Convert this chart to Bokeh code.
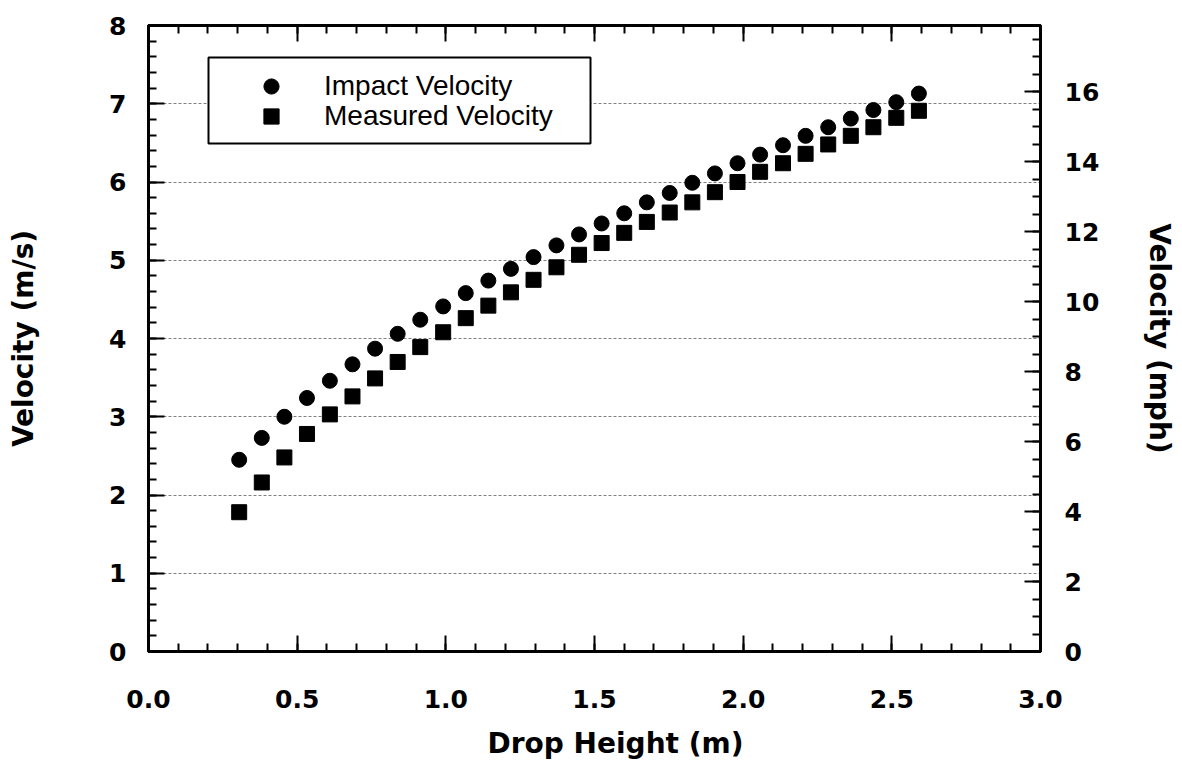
from bokeh.plotting import figure
from bokeh.models import (LinearAxis, Range1d, FixedTicker, PrintfTickFormatter,
                          CustomJSTickFormatter, Legend, LegendItem, Grid, Title,
                          BoxAnnotation)
from bokeh.embed import file_html
from bokeh.resources import INLINE

# ---------------- data ----------------
drop_height_m = [0.305, 0.381, 0.457, 0.533, 0.610, 0.686, 0.762, 0.838, 0.914, 0.991,
                 1.067, 1.143, 1.219, 1.295, 1.372, 1.448, 1.524, 1.600, 1.676, 1.753,
                 1.829, 1.905, 1.981, 2.057, 2.134, 2.210, 2.286, 2.362, 2.438, 2.515, 2.591]
impact_velocity = [2.45, 2.73, 3.00, 3.24, 3.46, 3.67, 3.87, 4.06, 4.24, 4.41,
                   4.58, 4.74, 4.89, 5.04, 5.19, 5.33, 5.47, 5.60, 5.74, 5.86,
                   5.99, 6.11, 6.24, 6.35, 6.47, 6.59, 6.70, 6.81, 6.92, 7.02, 7.13]
measured_velocity = [1.78, 2.16, 2.48, 2.78, 3.03, 3.26, 3.49, 3.70, 3.89, 4.08,
                     4.26, 4.42, 4.59, 4.75, 4.91, 5.07, 5.22, 5.35, 5.49, 5.61,
                     5.74, 5.87, 6.00, 6.13, 6.24, 6.36, 6.48, 6.59, 6.70, 6.82, 6.91]
series_labels = ["Impact Velocity", "Measured Velocity"]
x_title_text = "Drop Height (m)"

x_major_ticks = [0.0, 0.5, 1.0, 1.5, 2.0, 2.5, 3.0]
x_minor_ticks = [round(0.1 * i, 1) for i in range(31)]
y_major_ticks = [0, 1, 2, 3, 4, 5, 6, 7, 8]
y_minor_ticks = [round(0.2 * i, 1) for i in range(41)]
mph_major_ticks = [0, 2, 4, 6, 8, 10, 12, 14, 16]
mph_minor_ticks = [0.5 * i for i in range(36)]
MS_TO_MPH = 2.23694

BOLD_FONT = "DejaVu Sans"

p = figure(width=1182, height=765, output_backend="svg", toolbar_location=None,
           x_range=Range1d(0, 3.0), y_range=Range1d(0, 8),
           x_axis_location=None, y_axis_location=None,
           min_border_left=148, min_border_right=142,
           min_border_top=25, min_border_bottom=114)
p.extra_y_ranges = {"mph": Range1d(0, 8 * MS_TO_MPH)}
p.outline_line_color = "black"
p.outline_line_width = 3
p.background_fill_color = "white"
p.border_fill_color = "white"
p.xgrid.visible = False
p.ygrid.visible = False


def style_axis(ax, label_standoff, title_standoff):
    ax.axis_line_color = "black"
    ax.axis_line_width = 3
    ax.major_tick_in = 16
    ax.major_tick_out = 0
    ax.minor_tick_in = 8
    ax.minor_tick_out = 0
    ax.major_tick_line_width = 2
    ax.minor_tick_line_width = 2
    ax.major_tick_line_color = "black"
    ax.minor_tick_line_color = "black"
    ax.major_label_text_font = BOLD_FONT
    ax.major_label_text_font_style = "bold"
    ax.major_label_text_font_size = "25px"
    ax.major_label_text_color = "black"
    ax.major_label_standoff = label_standoff
    ax.axis_label_text_font = BOLD_FONT
    ax.axis_label_text_font_style = "bold"
    ax.axis_label_text_font_size = "28px"
    ax.axis_label_text_color = "black"
    ax.axis_label_standoff = title_standoff


bottom = LinearAxis(ticker=FixedTicker(ticks=x_major_ticks, minor_ticks=x_minor_ticks),
                    formatter=PrintfTickFormatter(format="%.1f"),
                    axis_label=" ")
style_axis(bottom, 38, 12)
bottom.axis_label_text_font_size = "1px"
p.add_layout(bottom, "below")

# x-axis title in its own panel, shifted right of centre as in the reference
x_title = Title(text=x_title_text, align="left", offset=339, standoff=0,
                vertical_align="top",
                text_font=BOLD_FONT, text_font_style="bold", text_font_size="28px",
                text_color="black")
p.add_layout(x_title, "below")

top = LinearAxis(ticker=FixedTicker(ticks=x_major_ticks, minor_ticks=x_minor_ticks),
                 formatter=CustomJSTickFormatter(code="return ''"))
style_axis(top, 0, 0)
top.major_label_text_font_size = "1px"
p.add_layout(top, "above")

left = LinearAxis(ticker=FixedTicker(ticks=y_major_ticks, minor_ticks=y_minor_ticks),
                  formatter=PrintfTickFormatter(format="%d"),
                  axis_label="Velocity (m/s)")
style_axis(left, 22, 66)
p.add_layout(left, "left")

right = LinearAxis(y_range_name="mph",
                   ticker=FixedTicker(ticks=mph_major_ticks, minor_ticks=mph_minor_ticks),
                   formatter=PrintfTickFormatter(format="%d"),
                   axis_label="Velocity (mph)")
style_axis(right, 24, 41)
p.add_layout(right, "right")

grid = Grid(dimension=1, ticker=FixedTicker(ticks=y_major_ticks),
            grid_line_color="#808080", grid_line_width=1, grid_line_dash="3 2")
p.add_layout(grid)

r1 = p.scatter(drop_height_m, impact_velocity, marker="circle", size=15,
               fill_color="black", line_color="black", line_width=1)
r2 = p.scatter(drop_height_m, measured_velocity, marker="square", size=15,
               fill_color="black", line_color="black", line_width=1)

# legend frame (screen units, measured from the frame's bottom-left corner)
legend_box = BoxAnnotation(left=60, right=442, bottom=508, top=594,
                           left_units="screen", right_units="screen",
                           bottom_units="screen", top_units="screen",
                           fill_color="white", fill_alpha=1.0,
                           line_color="black", line_width=2, line_alpha=1.0,
                           level="annotation")
p.add_layout(legend_box)


def make_legend(label, renderer, y_loc):
    return Legend(items=[LegendItem(label=label, renderers=[renderer])],
                  location=(70, y_loc), margin=0, padding=0, spacing=0,
                  glyph_width=106, glyph_height=38, label_standoff=0,
                  label_height=20,
                  label_text_font="Liberation Sans", label_text_font_size="28px",
                  label_text_color="black",
                  border_line_color=None,
                  background_fill_alpha=0.0)


p.add_layout(make_legend(series_labels[0], r1, 546))
p.add_layout(make_legend(series_labels[1], r2, 516))

open("out.html", "w").write(file_html(p, INLINE))
